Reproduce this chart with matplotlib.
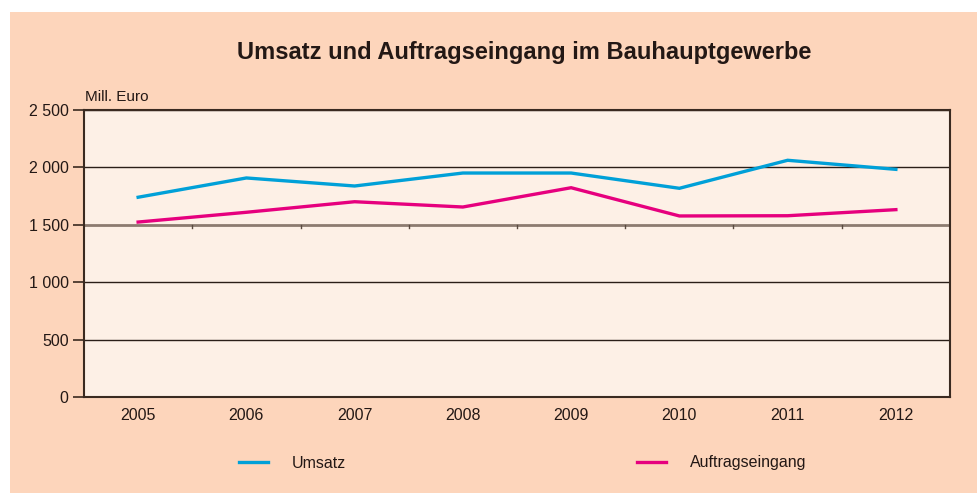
import matplotlib
matplotlib.use("Agg")
import matplotlib.pyplot as plt
from matplotlib.patches import Rectangle

years = ["2005", "2006", "2007", "2008", "2009", "2010", "2011", "2012"]
umsatz = [1740, 1908, 1838, 1951, 1951, 1818, 2062, 1983]
auftrag = [1524, 1609, 1701, 1655, 1823, 1577, 1579, 1632]
yticks = [0, 500, 1000, 1500, 2000, 2500]
ytick_labels = ["0", "500", "1 000", "1 500", "2 000", "2 500"]

plt.rcParams['font.family'] = ['Liberation Sans', 'DejaVu Sans']

W, H = 978, 493
fig = plt.figure(figsize=(W / 100, H / 100), dpi=100)
fig.patch.set_facecolor("white")
fig.patches.append(Rectangle((10 / W, 0), 1 - 10 / W, 1 - 12 / H, transform=fig.transFigure,
                             facecolor="#fdd5bb", edgecolor="none", zorder=-10))

ax = fig.add_axes([84 / W, (H - 397) / H, (950 - 84) / W, (397 - 110) / H])
ax.set_facecolor("#fdf0e6")
x = list(range(len(years)))
ax.plot(x, umsatz, color="#00a0d8", lw=2.4, label="Umsatz", solid_joinstyle="miter", zorder=3)
ax.plot(x, auftrag, color="#e6007e", lw=2.4, label="Auftragseingang", solid_joinstyle="miter", zorder=3)

ax.set_xlim(-0.5, len(years) - 0.5)
ax.set_ylim(0, 2500)
ax.set_xticks(x)
ax.set_xticklabels(years, fontsize=11.5, color="#231815")
ax.tick_params(axis="x", length=0, pad=8)
ax.set_yticks(yticks)
ax.set_yticklabels(ytick_labels, fontsize=11.5, color="#231815")
ax.tick_params(axis="y", length=8, width=1.2, color="#3a2a20", pad=3)

for v in yticks[1:]:
    if v == 1500:
        ax.axhline(v, color="#8c7b70", lw=2.0, zorder=1)
    else:
        ax.axhline(v, color="#2a1e18", lw=1.0, zorder=1)
# category boundary ticks on the 1500 line
for b in range(1, len(years)):
    ax.plot([b - 0.5, b - 0.5], [1500, 1470], color="#5a4a40", lw=1.0, zorder=1)

for s in ax.spines.values():
    s.set_color("#3a2a20")
    s.set_linewidth(1.5)

fig.text(524 / W, 1 - 52 / H, "Umsatz und Auftragseingang im Bauhauptgewerbe",
         ha="center", va="center", fontsize=17, fontweight="bold", color="#231815")
fig.text(85 / W, 1 - 97 / H, "Mill. Euro", ha="left", va="center", fontsize=11, color="#231815")

fig.legend(loc="center left", bbox_to_anchor=(225 / W, 1 - 463 / H), ncol=2, frameon=False,
           fontsize=11.5, handlelength=1.8, handletextpad=1.5, columnspacing=18.2,
           labelcolor="#231815")

fig.savefig("out.png", dpi=100, facecolor=fig.get_facecolor())
